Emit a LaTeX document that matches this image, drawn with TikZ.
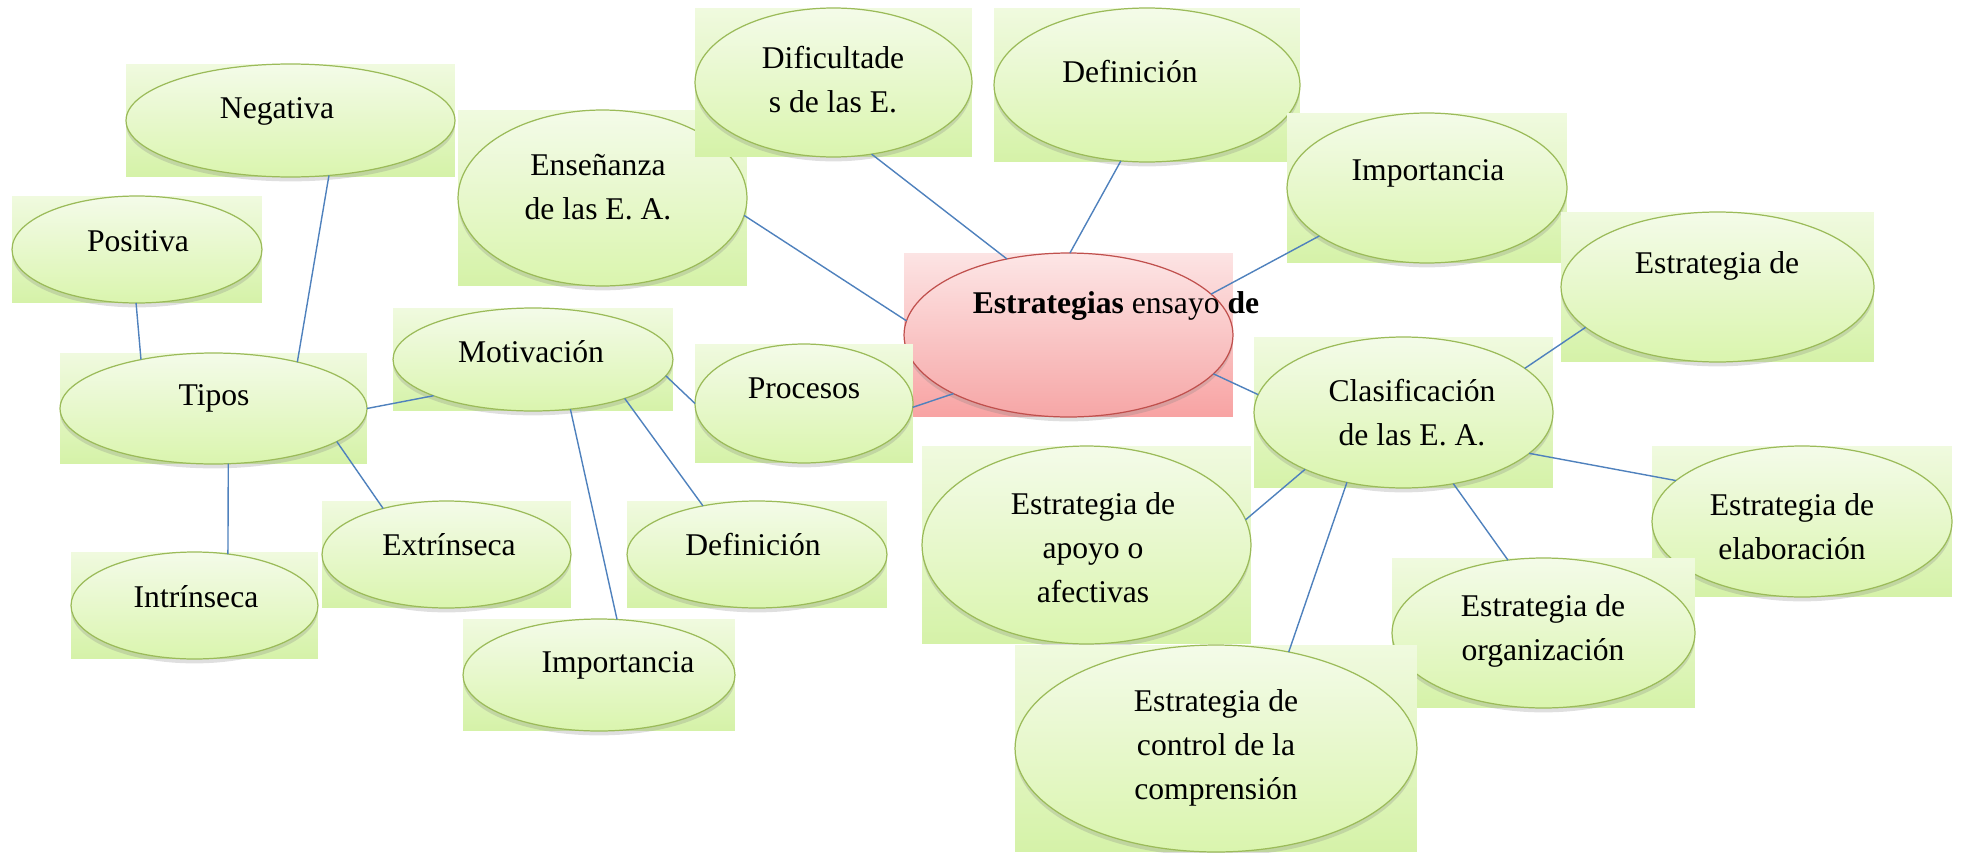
\documentclass[tikz,border=0pt]{standalone}
\usepackage{fontspec}
\setmainfont{Liberation Serif}
\usetikzlibrary{shapes.geometric,shadows}

\definecolor{boxtop}{HTML}{F0FADF}
\definecolor{boxbot}{HTML}{D5F2A8}
\definecolor{elltop}{HTML}{F4FBE9}
\definecolor{ellbot}{HTML}{DAF5AE}
\definecolor{ellline}{HTML}{9BBB59}
\definecolor{pinktop}{HTML}{FCE4E4}
\definecolor{pinkbot}{HTML}{F8A3A3}
\definecolor{pinkell}{HTML}{FDE6E6}
\definecolor{pinkellbot}{HTML}{F6A6A6}
\definecolor{redline}{HTML}{C0504D}
\definecolor{linkblue}{HTML}{4F81BD}

\tikzset{
  dims/.style 2 args={minimum width=#1cm, minimum height=#2cm},
  bubblebox/.style={rectangle, inner sep=0pt, outer sep=0pt, top color=boxtop, bottom color=boxbot},
  bubble/.style={ellipse, draw=ellline, line width=0.7pt, inner sep=0pt, outer sep=0pt,
    top color=elltop, bottom color=ellbot,
    drop shadow={shadow xshift=0pt, shadow yshift=-2.5pt, opacity=0.25}},
  mainbox/.style={bubblebox, top color=pinktop, bottom color=pinkbot},
  mainbubble/.style={bubble, draw=redline, top color=pinkell, bottom color=pinkellbot},
  txt/.style={inner sep=0pt, align=center, font=\fontsize{18}{25}\selectfont},
  link/.style={draw=linkblue, line width=0.8pt}
}

\begin{document}
\begin{tikzpicture}[x=0.02cm, y=-0.02cm]
\useasboundingbox (0,0) rectangle (1964,852);

% centre
\node[mainbox, dims={6.58}{3.28}] (mainb) at (1068.5,335) {};
\node[mainbubble, dims={6.58}{3.28}] (main) at (1068.5,335) {};
\node[txt] (maint) at (1116,306) {\textbf{Estrategias} ensayo \textbf{de}};

% top row
\node[bubblebox, dims={6.58}{2.26}] (negb) at (290.5,120.5) {};
\node[bubble, dims={6.58}{2.26}] (neg) at (290.5,120.5) {};
\node[txt] (negt) at (277,111) {Negativa};

\node[bubblebox, dims={5.0}{2.14}] (posb) at (137,249.5) {};
\node[bubble, dims={5.0}{2.14}] (pos) at (137,249.5) {};
\node[txt] (post) at (138,241) {Positiva};

\node[bubblebox, dims={5.78}{3.52}] (ensb) at (602.5,198) {};
\node[bubble, dims={5.78}{3.52}] (ens) at (602.5,198) {};
\node[txt] (enst) at (598,187.5) {Enseñanza\\de las E. A.};

\node[bubblebox, dims={5.54}{2.98}] (difb) at (833.5,82.5) {};
\node[bubble, dims={5.54}{2.98}] (dif) at (833.5,82.5) {};
\node[txt] (dift) at (833,80) {Dificultade\\s de las E.};

\node[bubblebox, dims={6.12}{3.08}] (defb) at (1147,85) {};
\node[bubble, dims={6.12}{3.08}] (def) at (1147,85) {};
\node[txt] (deft) at (1130,72) {Definición};

\node[bubblebox, dims={5.6}{3.0}] (impb) at (1427,188) {};
\node[bubble, dims={5.6}{3.0}] (imp) at (1427,188) {};
\node[txt] (impt) at (1428,173) {Importancia};

\node[bubblebox, dims={6.26}{3.0}] (estrb) at (1717.5,287) {};
\node[bubble, dims={6.26}{3.0}] (estr) at (1717.5,287) {};
\node[txt] (estrt) at (1717,266) {Estrategia de};

% left group
\node[bubblebox, dims={6.14}{2.22}] (tiposb) at (213.5,408.5) {};
\node[bubble, dims={6.14}{2.22}] (tipos) at (213.5,408.5) {};
\node[txt] (tipost) at (214,398) {Tipos};

\node[bubblebox, dims={5.6}{2.06}] (motivb) at (533,359.5) {};
\node[bubble, dims={5.6}{2.06}] (motiv) at (533,359.5) {};
\node[txt] (motivt) at (531,352) {Motivación};

\node[bubblebox, dims={4.36}{2.38}] (procb) at (804,403.5) {};
\node[bubble, dims={4.36}{2.38}] (proc) at (804,403.5) {};
\node[txt] (proct) at (804,388) {Procesos};

\node[bubblebox, dims={4.94}{2.14}] (intrb) at (194.5,605.5) {};
\node[bubble, dims={4.94}{2.14}] (intr) at (194.5,605.5) {};
\node[txt] (intrt) at (196,597) {Intrínseca};

\node[bubblebox, dims={4.98}{2.14}] (extrb) at (446.5,554.5) {};
\node[bubble, dims={4.98}{2.14}] (extr) at (446.5,554.5) {};
\node[txt] (extrt) at (449,545) {Extrínseca};

\node[bubblebox, dims={5.2}{2.14}] (defmb) at (757,554.5) {};
\node[bubble, dims={5.2}{2.14}] (defm) at (757,554.5) {};
\node[txt] (defmt) at (753,545) {Definición};

\node[bubblebox, dims={5.44}{2.24}] (impmb) at (599,675) {};
\node[bubble, dims={5.44}{2.24}] (impm) at (599,675) {};
\node[txt] (impmt) at (618,665) {Importancia};

% right group
\node[bubblebox, dims={5.98}{3.02}] (clasb) at (1403.5,412.5) {};
\node[bubble, dims={5.98}{3.02}] (clas) at (1403.5,412.5) {};
\node[txt] (clast) at (1412,412.5) {Clasificación\\de las E. A.};

\node[bubblebox, dims={6.58}{3.96}] (apoyob) at (1086.5,545) {};
\node[bubble, dims={6.58}{3.96}] (apoyo) at (1086.5,545) {};
\node[txt] (apoyot) at (1093,548) {Estrategia de\\apoyo o\\afectivas};

\node[bubblebox, dims={6.0}{3.02}] (elabb) at (1802,521.5) {};
\node[bubble, dims={6.0}{3.02}] (elab) at (1802,521.5) {};
\node[txt] (elabt) at (1792,526.5) {Estrategia de\\elaboración};

\node[bubblebox, dims={6.06}{3.0}] (orgb) at (1543.5,633) {};
\node[bubble, dims={6.06}{3.0}] (org) at (1543.5,633) {};
\node[txt] (orgt) at (1543,630.5) {Estrategia de\\organización};

\node[bubblebox, dims={8.04}{4.14}] (ctrlb) at (1216,748.5) {};
\node[bubble, dims={8.04}{4.14}] (ctrl) at (1216,748.5) {};
\node[txt] (ctrlt) at (1216,748) {Estrategia de\\control de la\\comprensión};

% links
\draw[link] (neg.-55) -- (tipos.29);
\draw[link] (pos.-91) -- (tipos.146);
\draw[link] (tipos.0) -- (motiv.-160);
\draw[link] (tipos.-15) -- (extr.144);
\draw[link] (tipos.-75) -- (intr.57);
\draw[link] (motiv.-53) -- (impm.72);
\draw[link] (motiv.-23) -- (defm.138);
\draw[link] (motiv.-7) -- (proc.180);
\draw[link] (ens.-7) -- (main.175);
\draw[link] (dif.-62) -- (main.129);
\draw[link] (def.-109) -- (main.89);
\draw[link] (imp.-156) -- (main.16);
\draw[link] (main.-15) -- (clas.173);
\draw[link] (main.-153) -- (proc.-2);
\draw[link] (clas.20) -- (estr.-163);
\draw[link] (clas.-18) -- (elab.162);
\draw[link] (clas.-150) -- (apoyo.9);
\draw[link] (clas.-129) -- (ctrl.53);
\draw[link] (clas.-55) -- (org.116);
\end{tikzpicture}
\end{document}
